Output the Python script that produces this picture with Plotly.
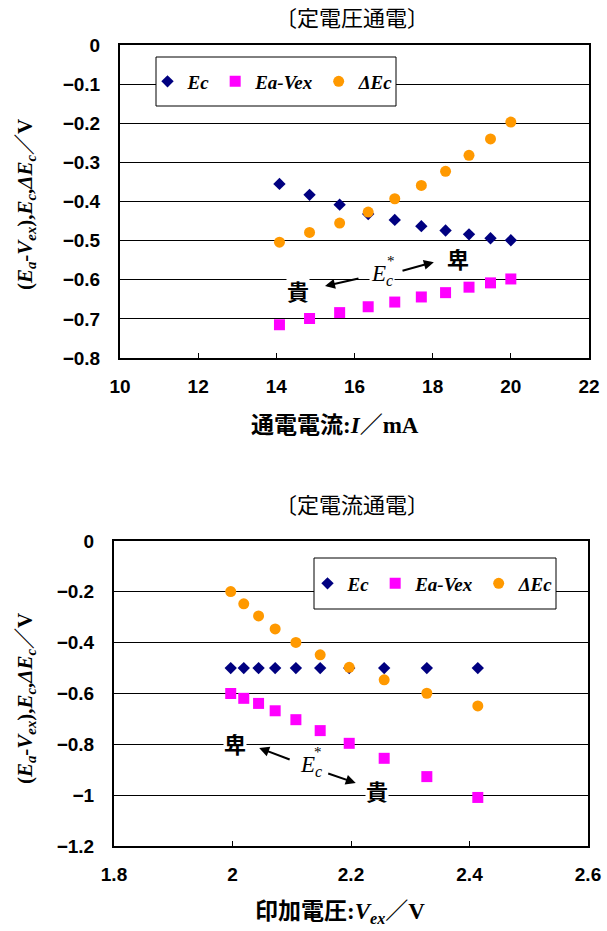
import plotly.graph_objects as go

# ---------------- data ----------------
# top chart: constant-voltage electrolysis (定電圧通電)
current_mA = [14.08, 14.85, 15.62, 16.35, 17.03, 17.71, 18.33, 18.93, 19.48, 20.0]
top_Ec = [-0.355, -0.383, -0.408, -0.432, -0.447, -0.463, -0.474, -0.484, -0.494, -0.499]
top_EaVex = [-0.715, -0.699, -0.684, -0.669, -0.657, -0.644, -0.633, -0.619, -0.608, -0.598]
top_dEc = [-0.504, -0.479, -0.455, -0.427, -0.393, -0.359, -0.323, -0.282, -0.240, -0.197]

# bottom chart: constant-current electrolysis (定電流通電)
voltage_V = [1.997, 2.019, 2.044, 2.072, 2.107, 2.148, 2.197, 2.256, 2.328, 2.414]
bot_Ec = [-0.500, -0.500, -0.500, -0.500, -0.500, -0.500, -0.500, -0.500, -0.500, -0.500]
bot_EaVex = [-0.600, -0.619, -0.639, -0.668, -0.703, -0.746, -0.796, -0.855, -0.927, -1.009]
bot_dEc = [-0.199, -0.247, -0.295, -0.346, -0.399, -0.448, -0.497, -0.546, -0.599, -0.649]

series_names = ["Ec", "Ea-Vex", "ΔEc"]
titles = ["〔定電圧通電〕", "〔定電流通電〕"]

# ---------------- styling ----------------
W, H = 607, 931
NAVY, MAGENTA, ORANGE = "#000080", "#FF00FF", "#FF9900"
SERIF = "Liberation Serif, Noto Sans CJK JP"
CJK = "Noto Sans CJK JP"
SANS = "Liberation Sans, Arial"


def px(x):
    return x / W


def py(y):
    return 1 - y / H


fig = go.Figure()

styles = [
    dict(symbol="diamond", color=NAVY, size=9.5),
    dict(symbol="square", color=MAGENTA, size=11),
    dict(symbol="circle", color=ORANGE, size=11),
]

for xs, ys_list, xa, ya, lg in [
    (current_mA, [top_Ec, top_EaVex, top_dEc], "x", "y", "legend"),
    (voltage_V, [bot_Ec, bot_EaVex, bot_dEc], "x2", "y2", "legend2"),
]:
    for name, ys, st in zip(series_names, ys_list, styles):
        fig.add_trace(go.Scatter(
            x=xs, y=ys, mode="markers", name=name,
            marker=dict(symbol=st["symbol"], color=st["color"], size=st["size"],
                        line=dict(width=0)),
            xaxis=xa, yaxis=ya, legend=lg,
        ))

tickfont = dict(family=SANS, size=19, color="black", weight="bold")
axis_common = dict(showline=True, linewidth=2, linecolor="black", mirror=True,
                   zeroline=False, tickfont=tickfont, automargin=False)

legend_font = dict(family=SERIF, size=19, color="black", weight="bold", style="italic")

fig.update_layout(
    width=W, height=H,
    margin=dict(l=0, r=0, t=0, b=0, pad=0, autoexpand=False),
    autosize=False,
    paper_bgcolor="white", plot_bgcolor="white",
    xaxis=dict(domain=[px(120), px(589)], range=[10, 22], dtick=2, anchor="y",
               ticks="inside", ticklen=5, tickcolor="black", showgrid=False,
               ticklabelstandoff=10, **axis_common),
    yaxis=dict(domain=[py(358), py(45)], range=[-0.8, 0], dtick=0.1, anchor="x",
               ticks="", showgrid=True, gridcolor="black", gridwidth=1,
               ticklabelstandoff=14, **axis_common),
    xaxis2=dict(domain=[px(114), px(588)], range=[1.8, 2.6], dtick=0.2, anchor="y2",
                ticks="inside", ticklen=5, tickcolor="black", showgrid=False,
                ticklabelstandoff=10, **axis_common),
    yaxis2=dict(domain=[py(846), py(541)], range=[-1.2, 0], dtick=0.2, anchor="x2",
                ticks="", showgrid=True, gridcolor="black", gridwidth=1,
                ticklabelstandoff=14, **axis_common),
    legend=dict(orientation="h", x=px(273), y=py(81.5), xanchor="center", yanchor="middle",
                bgcolor="rgba(0,0,0,0)", borderwidth=0, itemwidth=30, font=legend_font),
    legend2=dict(orientation="h", x=px(433), y=py(583.5), xanchor="center", yanchor="middle",
                 bgcolor="rgba(0,0,0,0)", borderwidth=0, itemwidth=30, font=legend_font),
    showlegend=True,
)

# legend boxes
for x0, x1, y0, y1 in [(156, 396, 57, 106), (314, 556, 558, 609)]:
    fig.add_shape(type="rect", xref="paper", yref="paper",
                  x0=px(x0), x1=px(x1), y0=py(y1), y1=py(y0),
                  fillcolor="white", line=dict(color="black", width=1), layer="above")

ann = []
# chart titles
for t, yc in zip(titles, [16, 503]):
    ann.append(dict(text=t, x=px(352), y=py(yc), xref="paper", yref="paper",
                    xanchor="center", yanchor="middle",
                    showarrow=False, font=dict(family=CJK, size=22, color="black")))

# y-axis titles
ytitle = ("<b>(<i>E<sub>a</sub></i>-<i>V<sub>ex</sub></i>),<i>E<sub>c</sub></i>,"
          "<i>ΔE<sub>c</sub></i>／V</b>")
for yc in [205, 699]:
    ann.append(dict(text=ytitle, x=px(26), y=py(yc), xref="paper", yref="paper",
                    xanchor="center", yanchor="middle",
                    textangle=-90, showarrow=False,
                    font=dict(family=SERIF, size=21, color="black")))

# x-axis titles
ann.append(dict(text="<b>通電電流:<i>I</i>／mA</b>", x=px(335), y=py(426),
                xref="paper", yref="paper", xanchor="center", yanchor="middle",
                showarrow=False, font=dict(family=SERIF, size=23, color="black")))
ann.append(dict(text="<b>印加電圧:<i>V<sub>ex</sub></i>／V</b>", x=px(340), y=py(913),
                xref="paper", yref="paper", xanchor="center", yanchor="middle",
                showarrow=False, font=dict(family=SERIF, size=23, color="black")))

# in-plot annotations: 卑 / 貴 / Ec* and arrows
def in_plot(xr, yr, hi, lo, ec, star_shift, arrows):
    out = []
    for txt, (x, y) in [("卑", hi), ("貴", lo)]:
        out.append(dict(text="<b>" + txt + "</b>", x=x, y=y, xref=xr, yref=yr,
                        xanchor="center", yanchor="middle",
                        showarrow=False, bgcolor="white", borderpad=0,
                        font=dict(family=CJK, size=22, color="black")))
    out.append(dict(text="<i>E<sub>c</sub></i>", x=ec[0], y=ec[1], xref=xr, yref=yr,
                    xanchor="center", yanchor="middle",
                    showarrow=False, bgcolor="white", borderpad=1,
                    font=dict(family=SERIF, size=23, color="black")))
    out.append(dict(text="*", x=ec[0], y=ec[1], xref=xr, yref=yr, showarrow=False,
                    xanchor="center", yanchor="middle",
                    xshift=star_shift[0], yshift=star_shift[1],
                    font=dict(family=SERIF, size=15, color="black")))
    for (tx, ty), (hx, hy) in arrows:
        out.append(dict(text="", x=hx, y=hy, ax=tx, ay=ty, xref=xr, yref=yr,
                        axref=xr, ayref=yr, showarrow=True, arrowhead=2,
                        arrowsize=1, arrowwidth=2, arrowcolor="black", standoff=0))
    return out

ann += in_plot("x", "y", hi=(18.648, -0.544), lo=(14.554, -0.626), ec=(16.70, -0.588),
               star_shift=(9, 14),
               arrows=[((17.19, -0.578), (18.03, -0.555)),
                       ((16.14, -0.596), (15.245, -0.616))])
ann += in_plot("x2", "y2", hi=(2.004, -0.795), lo=(2.244, -0.980), ec=(2.132, -0.885),
               star_shift=(7, 14),
               arrows=[((2.099, -0.862), (2.045, -0.814)),
                       ((2.159, -0.913), (2.208, -0.952))])

fig.update_layout(annotations=ann)

fig.write_html(
    "out.html",
    config={"displayModeBar": False},
    post_script="document.body.style.margin='0';document.body.style.overflow='hidden';",
)
